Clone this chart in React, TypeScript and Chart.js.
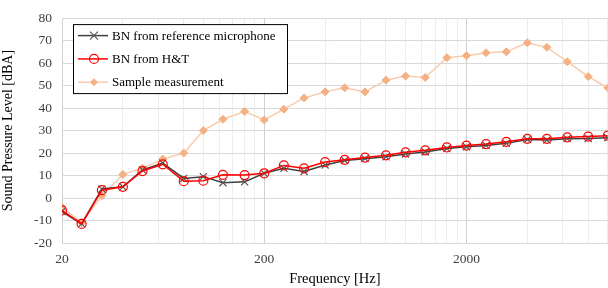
import React, { useEffect, useRef } from "react";
import { Chart, registerables } from "chart.js";
Chart.register(...registerables);

const frequencies = [20, 25, 31.5, 40, 50, 63, 80, 100, 125, 160, 200, 250, 315, 400, 500, 630, 800, 1000, 1250, 1600, 2000, 2500, 3150, 4000, 5000, 6300, 8000, 10000];
const bnReference = [-6, -11.5, 4, 5, 12.5, 15.5, 8.7, 9.5, 6.8, 7.2, 11, 13.2, 11.8, 14.7, 16.7, 17.5, 18.3, 19.6, 20.5, 22, 22.8, 23.4, 24.3, 26, 25.8, 26.4, 26.5, 26.8];
const bnHT = [-5.5, -11.5, 3.5, 5, 12, 15, 7.5, 7.7, 10.3, 10.2, 11, 14.5, 13.2, 16, 17, 18, 19, 20.3, 21.2, 22.5, 23.3, 24, 25, 26.3, 26.3, 27, 27.3, 27.7];
const sampleMeasurement = [-4, -11, 1, 10.5, 13.3, 17.3, 20, 30, 35, 38.5, 34.7, 39.5, 44.5, 47.2, 49, 47.2, 52.4, 54.2, 53.6, 62.4, 63.3, 64.6, 65, 69, 67, 60.6, 54, 49];
const seriesNames = ["BN from reference microphone", "BN from H&T", "Sample measurement"];
const xGridValues = [20, 40, 60, 80, 100, 120, 140, 160, 180, 200, 400, 600, 800, 1000, 1200, 1400, 1600, 1800, 2000, 4000, 6000, 8000, 10000];
const xLabelValues = [20, 200, 2000];

const FONT = "'Liberation Serif', 'Times New Roman', serif";

function drawMarker(ctx: CanvasRenderingContext2D, style: string, x: number, y: number, r: number, stroke: string, fill: string) {
  ctx.save();
  ctx.strokeStyle = stroke;
  ctx.fillStyle = fill;
  ctx.lineWidth = 1.2;
  ctx.beginPath();
  if (style === "crossRot") {
    ctx.moveTo(x - r * 0.8, y - r * 0.8);
    ctx.lineTo(x + r * 0.8, y + r * 0.8);
    ctx.moveTo(x + r * 0.8, y - r * 0.8);
    ctx.lineTo(x - r * 0.8, y + r * 0.8);
    ctx.stroke();
  } else if (style === "circle") {
    ctx.arc(x, y, r, 0, Math.PI * 2);
    ctx.stroke();
  } else {
    ctx.moveTo(x, y - r);
    ctx.lineTo(x + r, y);
    ctx.lineTo(x, y + r);
    ctx.lineTo(x - r, y);
    ctx.closePath();
    ctx.fill();
  }
  ctx.restore();
}

const boxLegend = {
  id: "boxLegend",
  afterDatasetsDraw(chart: any) {
    const ctx: CanvasRenderingContext2D = chart.ctx;
    const a = chart.chartArea;
    const x = a.left + 11;
    const y = a.top + 6;
    const w = 214;
    const h = 69;
    ctx.save();
    ctx.fillStyle = "#ffffff";
    ctx.fillRect(x, y, w, h);
    ctx.strokeStyle = "#000000";
    ctx.lineWidth = 1;
    ctx.strokeRect(x + 0.5, y + 0.5, w, h);
    const ds = chart.data.datasets;
    ds.forEach((d: any, i: number) => {
      const cy = y + 11.5 + i * 23.3;
      ctx.strokeStyle = d.borderColor;
      ctx.lineWidth = d.borderWidth;
      ctx.beginPath();
      ctx.moveTo(x + 5, cy);
      ctx.lineTo(x + 35, cy);
      ctx.stroke();
      drawMarker(ctx, d.pointStyle, x + 21, cy, d.pointRadius, d.pointBorderColor, d.pointBackgroundColor);
      ctx.fillStyle = "#000000";
      ctx.font = `13px ${FONT}`;
      ctx.textBaseline = "middle";
      ctx.textAlign = "left";
      ctx.fillText(d.label, x + 39, cy + 0.5);
    });
    ctx.restore();
  },
};

export default function App() {
  const ref = useRef<HTMLCanvasElement>(null);
  useEffect(() => {
    document.body.style.margin = "0";
    const toPts = (arr: number[]) => frequencies.map((f, i) => ({ x: f, y: arr[i] }));
    const chart = new Chart(ref.current!, {
      type: "line",
      data: {
        datasets: [
          {
            label: seriesNames[0],
            data: toPts(bnReference),
            borderColor: "#404040",
            borderWidth: 1.5,
            pointStyle: "crossRot",
            pointRadius: 5,
            pointBorderColor: "#595959",
            pointBackgroundColor: "#595959",
            pointBorderWidth: 1.2,
            order: 2,
          },
          {
            label: seriesNames[1],
            data: toPts(bnHT),
            borderColor: "#ff0000",
            borderWidth: 1.5,
            pointStyle: "circle",
            pointRadius: 4.5,
            pointBorderColor: "#ff0000",
            pointBackgroundColor: "rgba(0,0,0,0)",
            pointBorderWidth: 1.2,
            order: 1,
          },
          {
            label: seriesNames[2],
            data: toPts(sampleMeasurement),
            borderColor: "#f8cbad",
            borderWidth: 1.5,
            pointStyle: "rectRot",
            pointRadius: 4,
            pointBorderColor: "#f4b183",
            pointBackgroundColor: "#f4b183",
            pointBorderWidth: 1,
            order: 3,
          },
        ],
      },
      options: {
        animation: false,
        responsive: false,
        maintainAspectRatio: false,
        layout: { padding: { top: 18, right: 1, left: 0, bottom: 0 } },
        plugins: { legend: { display: false }, tooltip: { enabled: false } },
        scales: {
          x: {
            type: "logarithmic",
            min: 20,
            max: 10000,
            afterBuildTicks: (s: any) => {
              s.ticks = xGridValues.map((v) => ({ value: v }));
            },
            afterFit: (s: any) => {
              s.height = 45;
              s.paddingRight = 0;
              s.paddingLeft = 0;
            },
            ticks: {
              autoSkip: false,
              maxRotation: 0,
              padding: 8,
              color: "#404040",
              font: { family: FONT, size: 13.5 },
              callback: (v: any) => (xLabelValues.includes(Number(v)) ? String(v) : ""),
            },
            grid: {
              drawTicks: false,
              color: (c: any) => (c.tick && xLabelValues.includes(c.tick.value) ? "#d0d0d0" : "#eeeeee"),
            },
            border: { display: false },
            title: {
              display: true,
              text: "Frequency [Hz]",
              color: "#000000",
              font: { family: FONT, size: 14.5 },
              padding: { top: 5, bottom: 0 },
            },
          },
          y: {
            min: -20,
            max: 80,
            afterFit: (s: any) => {
              s.width = 62;
            },
            ticks: {
              stepSize: 10,
              padding: 10,
              color: "#404040",
              font: { family: FONT, size: 13.5 },
            },
            grid: { drawTicks: false, color: "#d9d9d9" },
            border: { display: false },
            title: {
              display: true,
              text: "Sound Pressure Level [dBA]",
              color: "#000000",
              font: { family: FONT, size: 14 },
              padding: { top: 0, bottom: 3 },
            },
          },
        },
      },
      plugins: [boxLegend],
    } as any);
    return () => chart.destroy();
  }, []);
  return (
    <div style={{ position: "absolute", left: 0, top: 0, width: 608, height: 288, overflow: "hidden" }}>
      <canvas ref={ref} width={614} height={288} style={{ width: 614, height: 288, display: "block" }} />
    </div>
  );
}
